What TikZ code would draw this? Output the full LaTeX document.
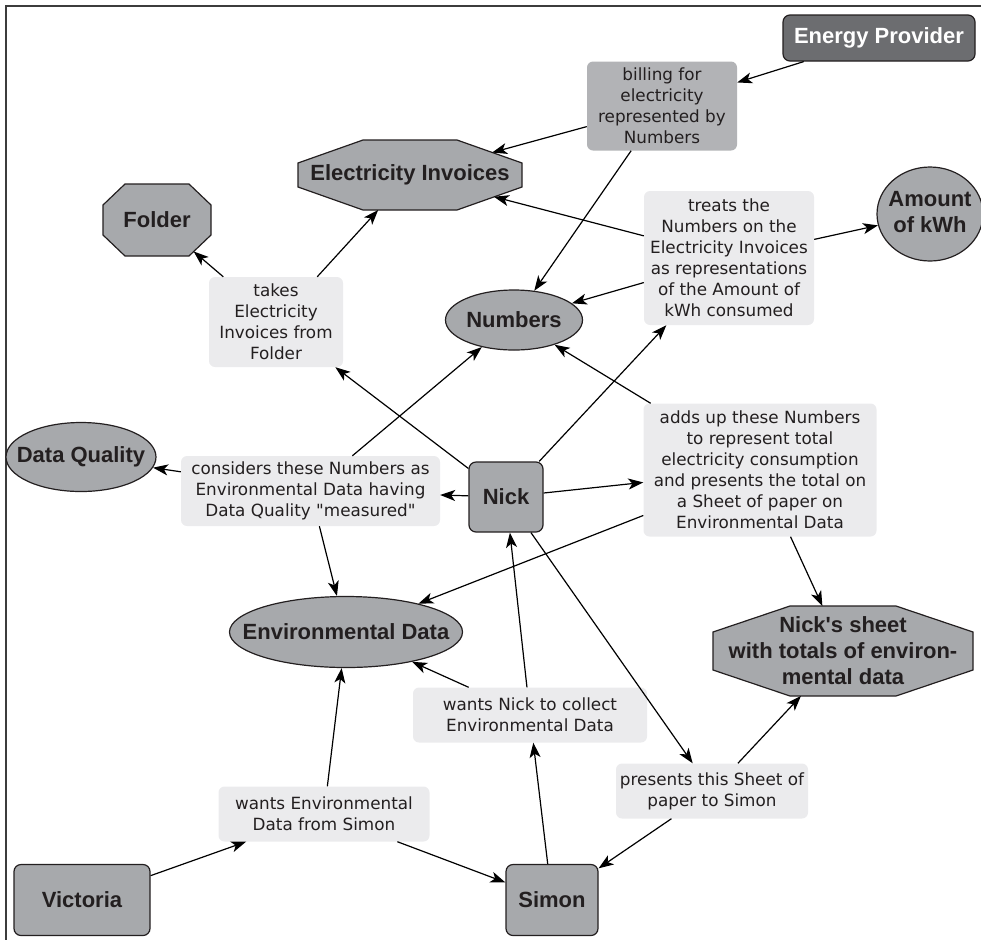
\documentclass[tikz,border=0pt]{standalone}
\usepackage{fontspec}
\setmainfont{DejaVu Sans}[Ligatures=TeXOff]
\newfontfamily\nodefont{Liberation Sans}[Ligatures=TeXOff]
\usetikzlibrary{arrows.meta,shapes.geometric}
\definecolor{nodegray}{RGB}{167,169,172}
\definecolor{darkgray2}{RGB}{108,109,112}
\definecolor{labelgray}{RGB}{235,235,237}
\definecolor{billgray}{RGB}{178,179,182}
\definecolor{txt}{RGB}{35,31,32}
\definecolor{framecol}{RGB}{60,60,60}
\pgfdeclarelayer{bg}
\pgfsetlayers{bg,main}
% octagon outline around a rectangular node: #1 node, #2 x chamfer, #3 y chamfer
\newcommand\octpath[3]{%
  \begin{pgfonlayer}{bg}
  \draw[octline] ([xshift=#2]#1.north west) -- ([xshift=-#2]#1.north east)
    -- ([yshift=-#3]#1.north east) -- ([yshift=#3]#1.south east)
    -- ([xshift=-#2]#1.south east) -- ([xshift=#2]#1.south west)
    -- ([yshift=#3]#1.south west) -- ([yshift=-#3]#1.north west) -- cycle;
  \end{pgfonlayer}}
\begin{document}
\begin{tikzpicture}[x=1pt,y=-1pt,
  concept/.style={draw=txt, line width=1.2pt, fill=nodegray, text=txt,
    font=\nodefont\bfseries\fontsize{22}{26}\selectfont, align=center, inner sep=0pt},
  person/.style={concept, rectangle, rounded corners=7pt},
  oval/.style={concept, ellipse},
  octo/.style={rectangle, text=txt, font=\nodefont\bfseries\fontsize{22}{26}\selectfont,
    align=center, inner sep=0pt, outer sep=0pt},
  octline/.style={draw=txt, line width=1.2pt, fill=nodegray, line join=miter},
  lbl/.style={fill=labelgray, rounded corners=6pt, text=txt,
    font=\fontsize{16.8}{21}\selectfont, align=center, inner sep=0pt},
  conn/.style={draw=black, line width=1.2pt, -{Stealth[length=15pt,width=11pt,inset=4pt]}},
]
\useasboundingbox (0,0) rectangle (981,940);
\draw[line width=2pt, draw=framecol] (981,6) -- (6,6) -- (6,940);

\node[person, fill=darkgray2, text=white, minimum width=192, minimum height=46] (ep) at (879,38) {Energy Provider};
\node[lbl, fill=billgray, minimum width=150, minimum height=89] (bill) at (662,106) {billing for\\electricity\\represented by\\Numbers};
\node[octo, minimum width=224, minimum height=70] (ei) at (410,175) {Electricity Invoices};
\octpath{ei}{65pt}{23pt}
\node[octo, minimum width=108, minimum height=72] (fo) at (157,220) {Folder};
\octpath{fo}{22pt}{21pt}
\node[lbl, minimum width=134, minimum height=90] (takes) at (276,322) {takes\\Electricity\\Invoices from\\Folder};
\node[oval, minimum width=106, minimum height=94] (kwh) at (930,214) {\makebox[0pt]{\begin{tabular}{@{}c@{}}Amount\\of kWh\end{tabular}}};
\node[lbl, minimum width=170, minimum height=134] (treats) at (729,258) {treats the\\Numbers on the\\Electricity Invoices\\as representations\\of the Amount of\\kWh consumed};
\node[oval, minimum width=137, minimum height=60] (num) at (514,320) {\makebox[0pt]{Numbers}};
\node[oval, minimum width=150, minimum height=69] (dq) at (81,457) {\makebox[0pt]{Data Quality}};
\node[lbl, minimum width=259, minimum height=70] (cons) at (310.5,491) {considers these Numbers as\\Environmental Data having\\Data Quality "measured"};
\node[person, minimum width=74, minimum height=70] (nick) at (506,497) {Nick};
\node[lbl, minimum width=233, minimum height=133] (adds) at (760,470) {adds up these Numbers\\to represent total\\electricity consumption\\and presents the total on\\a Sheet of paper on\\Environmental Data};
\node[octo, minimum width=260, minimum height=90] (sheet) at (843,651) {Nick's sheet\\with totals of environ-\\mental data};
\octpath{sheet}{77pt}{26pt}
\node[oval, minimum width=233, minimum height=71] (env) at (346,632) {\makebox[0pt]{Environmental Data}};
\node[lbl, minimum width=234, minimum height=55] (wnick) at (530,715) {wants Nick to collect\\Environmental Data};
\node[lbl, minimum width=192, minimum height=55] (pres) at (712,791) {presents this Sheet of\\paper to Simon};
\node[lbl, minimum width=211, minimum height=55] (wenv) at (324,814) {wants Environmental\\Data from Simon};
\node[person, minimum width=136, minimum height=71] (vic) at (82,900) {Victoria};
\node[person, minimum width=92, minimum height=71] (sim) at (552,900) {Simon};

\draw[conn] (ep) -- (bill);
\draw[conn, shorten >=-31pt] (bill) -- (ei);
\draw[conn] (bill) -- (num);
\draw[conn] (nick) -- (takes);
\draw[conn, shorten >=-7pt] (takes) -- (fo);
\draw[conn] (takes) -- (ei);
\draw[conn] (nick) -- (treats);
\draw[conn, shorten >=-29pt] (treats) -- (ei);
\draw[conn] (treats) -- (num);
\draw[conn] (treats) -- (kwh);
\draw[conn] (nick) -- (cons);
\draw[conn] (cons) -- (dq);
\draw[conn] (cons) -- (num);
\draw[conn] (cons) -- (env);
\draw[conn] (nick) -- (adds);
\draw[conn] (adds) -- (num);
\draw[conn] (adds) -- (env);
\draw[conn] (adds) -- (sheet);
\draw[conn] (nick) -- (pres);
\draw[conn] (pres) -- (sheet);
\draw[conn] (pres) -- (sim);
\draw[conn] (sim) -- (wnick);
\draw[conn] (wnick) -- (nick);
\draw[conn] (wnick) -- (env);
\draw[conn] (vic) -- (wenv);
\draw[conn] (wenv) -- (env);
\draw[conn] (wenv) -- (sim);
\end{tikzpicture}
\end{document}
